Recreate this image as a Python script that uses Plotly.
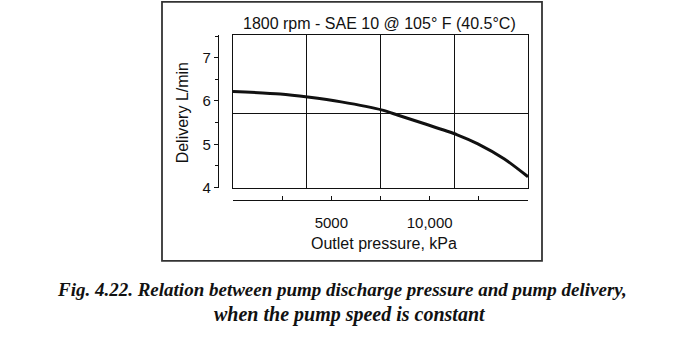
import plotly.graph_objects as go

# ---- data ----
pressure_kpa = [0, 2400, 3800, 5500, 7600, 8400, 9700, 11400, 12450, 13800, 15000]
delivery_lpm = [6.22, 6.16, 6.09, 5.98, 5.79, 5.67, 5.48, 5.22, 5.01, 4.66, 4.25]

x_tick_vals = [0, 2500, 5000, 7500, 10000, 12500, 15000]
x_tick_text = ["", "", "5000", "", "10,000", "", ""]
y_tick_vals = [4, 5, 6, 7]
y_tick_text = ["4", "5", "6", "7"]
y_minor_vals = [4.5, 5.5, 6.5, 7.5]
x_grid_vals = [3750, 7500, 11250]
y_grid_vals = [5.7]

title_text = "1800 rpm - SAE 10 @ 105° F (40.5°C)"
x_title = "Outlet pressure, kPa"
y_title = "Delivery L/min"
caption_1 = "Fig. 4.22. Relation between pump discharge pressure and pump delivery,"
caption_2 = "when the pump speed is constant"

W, H = 682, 349
X_RANGE = [0, 15000]
Y_RANGE = [4, 7.52]

def px(x):
    return x / W

def py(y):
    return 1 - y / H

SANS = "Arial, Liberation Sans, sans-serif"
SERIF = "Times New Roman, Liberation Serif, serif"
INK = "#111111"

fig = go.Figure()
fig.add_trace(go.Scatter(
    x=pressure_kpa, y=delivery_lpm, mode="lines",
    line=dict(color=INK, width=3, shape="spline", smoothing=0.8),
    xaxis="x", yaxis="y", showlegend=False, hoverinfo="skip"))

fig.update_layout(
    width=W, height=H,
    margin=dict(l=0, r=0, t=0, b=0),
    paper_bgcolor="white", plot_bgcolor="white",
    xaxis=dict(domain=[px(233), px(528)], range=X_RANGE,
               tickvals=x_grid_vals, showticklabels=False, ticks="",
               showgrid=True, gridcolor=INK, gridwidth=1.1,
               showline=True, mirror=True, linecolor=INK, linewidth=1.4,
               zeroline=False, fixedrange=True),
    yaxis=dict(domain=[py(192), py(36)], range=Y_RANGE,
               tickvals=y_grid_vals, showticklabels=False, ticks="",
               showgrid=True, gridcolor=INK, gridwidth=1.1,
               showline=True, mirror=True, linecolor=INK, linewidth=1.4,
               zeroline=False, fixedrange=True),
    xaxis2=dict(overlaying="x", anchor="free", position=py(205), range=X_RANGE,
                tickvals=x_tick_vals, ticktext=x_tick_text, ticks="inside",
                ticklen=4, tickwidth=1, tickcolor=INK,
                showline=True, linecolor=INK, linewidth=1.2,
                showgrid=False, zeroline=False, ticklabelstandoff=9,
                tickfont=dict(family=SANS, size=15, color=INK),
                fixedrange=True),
    yaxis2=dict(overlaying="y", anchor="free", position=px(218), range=Y_RANGE,
                tickvals=y_tick_vals, ticktext=y_tick_text, ticks="outside",
                ticklen=4, tickwidth=1, tickcolor=INK,
                minor=dict(tickvals=y_minor_vals, ticks="outside", ticklen=3,
                           tickcolor=INK),
                showline=True, linecolor=INK, linewidth=1.2,
                showgrid=False, zeroline=False,
                tickfont=dict(family=SANS, size=15, color=INK),
                fixedrange=True),
)

# invisible anchor trace so that the offset axes are drawn with the same scales
fig.add_trace(go.Scatter(x=[X_RANGE[0]], y=[Y_RANGE[0]], mode="markers",
                         marker=dict(opacity=0), xaxis="x2", yaxis="y2",
                         showlegend=False, hoverinfo="skip"))

# outer frame
fig.add_shape(type="rect", xref="paper", yref="paper",
              x0=px(162), x1=px(542), y0=py(267), y1=py(2),
              line=dict(color="#333333", width=1.8))

ann = dict(xref="paper", yref="paper", showarrow=False)
fig.add_annotation(text=title_text, x=px(380), y=py(24), xanchor="center", yanchor="middle",
                   font=dict(family=SANS, size=16, color=INK), **ann)
fig.add_annotation(text=x_title, x=px(384), y=py(249), xanchor="center", yanchor="middle",
                   font=dict(family=SANS, size=16, color=INK), **ann)
fig.add_annotation(text=y_title, x=px(182), y=py(116), xanchor="center", yanchor="middle",
                   textangle=-90, font=dict(family=SANS, size=16, color=INK), **ann)
fig.add_annotation(text="<b><i>" + caption_1 + "</i></b>", x=px(342), y=py(296),
                   xanchor="center", yanchor="middle",
                   font=dict(family=SERIF, size=19, color=INK), **ann)
fig.add_annotation(text="<b><i>" + caption_2 + "</i></b>", x=px(350), y=py(322),
                   xanchor="center", yanchor="middle",
                   font=dict(family=SERIF, size=20, color=INK), **ann)

fig.write_html("out.html")
